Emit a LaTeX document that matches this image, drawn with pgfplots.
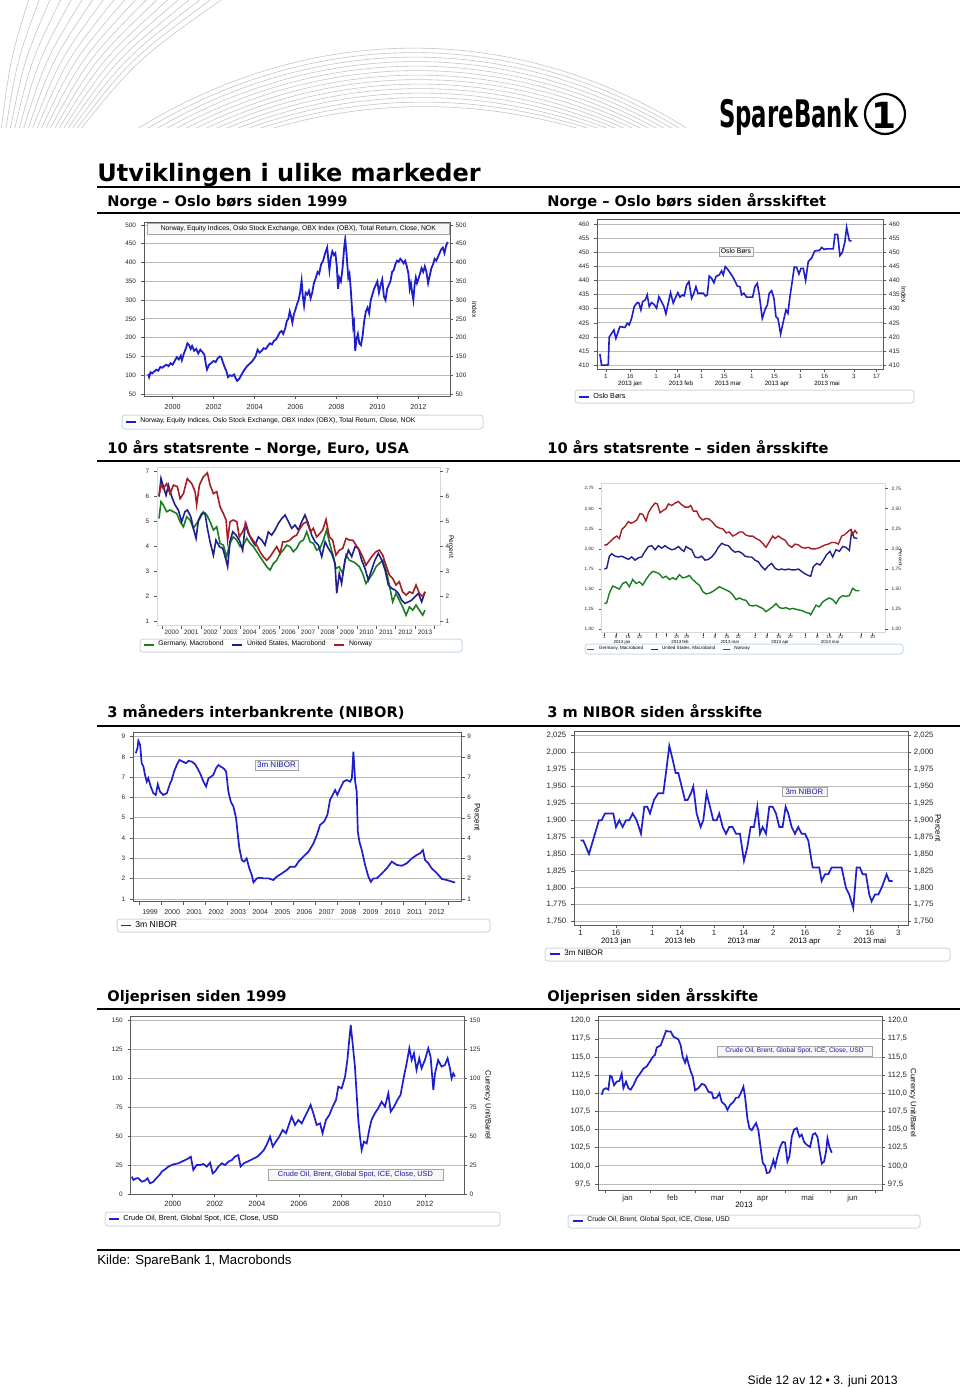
\documentclass[border=0pt]{standalone}
\usepackage{pgfplots}
\pgfplotsset{compat=1.18}
\usepackage{fontspec}
\setmainfont{Liberation Sans}
\newfontfamily\verd{DejaVu Sans}
\definecolor{lb}{RGB}{30,30,205}
\definecolor{frc}{RGB}{90,90,90}
\definecolor{grc}{RGB}{185,185,185}
\definecolor{lfr}{RGB}{205,218,228}
\definecolor{ggreen}{RGB}{25,125,35}
\definecolor{gnavy}{RGB}{30,30,140}
\definecolor{gred}{RGB}{165,30,35}
\definecolor{lgbox}{RGB}{200,218,230}
\newcommand{\fs}[1]{\fontsize{#1}{#1}\selectfont}
\pgfplotsset{
 bx/.style={scale only axis, anchor=south west, axis line style={draw=frc, line width=0.5pt},
  tick align=outside, major tick length=1.5pt, minor tick length=1.5pt,
  tick style={draw=frc, line width=0.3pt}, xtick pos=left, ytick pos=left,
  ymajorgrids, grid style={draw=grc, line width=0.45pt},
  tick label style={font=\fs{3.2}, text=black!85},
  yticklabel style={xshift=1pt},
  /pgf/number format/1000 sep={}, /pgf/number format/assume math mode=true,
  legend style={draw=none, fill=none, font=\fs{3.4}, inner sep=0pt, outer sep=0pt, anchor=west},
  legend cell align=left,
  legend image code/.code={\draw[##1, line width=0.7pt] (0pt,0pt) -- (5pt,0pt);}},
 rx/.style={scale only axis, anchor=south west, axis line style={draw=none},
  tick align=outside, major tick length=1.5pt, tick style={draw=frc, line width=0.3pt},
  xtick=\empty, ytick pos=right, yticklabel pos=right, ylabel near ticks,
  tick label style={font=\fs{3.2}, text=black!85}, yticklabel style={xshift=-2.2pt},
  ylabel style={font=\fs{3.3}, rotate=180},
  /pgf/number format/assume math mode=true, /pgf/number format/1000 sep={}, xmin=0, xmax=1},
 cA/.style={at={(72pt,-198pt)}, width=153pt, height=86.5pt, ymin=44.7, ymax=505.3, ytick={50,100,...,500}},
 cB/.style={at={(298.65pt,-184.65pt)}, width=143pt, height=74.65pt, ymin=408.6, ymax=461.4, ytick={410,415,...,460}},
 cC/.style={at={(78.65pt,-312.85pt)}, width=141.35pt, height=79.2pt, ymin=0.84, ymax=7.15, ytick={1,...,7}},
 cD/.style={at={(300.85pt,-316.35pt)}, width=141.65pt, height=74.85pt, ymin=0.958, ymax=2.82,
   ytick={1,1.25,1.5,1.75,2,2.25,2.5,2.75}, yticklabels={{1,00},{1,25},{1,50},{1,75},{2,00},{2,25},{2,50},{2,75}}},
 cE/.style={at={(66.65pt,-450.85pt)}, width=164.2pt, height=84.7pt, ymin=0.87, ymax=9.21, ytick={1,...,9}},
 cF/.style={at={(287.15pt,-462.5pt)}, width=167pt, height=97pt, ymin=1.745, ymax=2.032,
   ytick={1.75,1.775,1.8,1.825,1.85,1.875,1.9,1.925,1.95,1.975,2,2.025},
   yticklabels={{1,750},{1,775},{1,800},{1,825},{1,850},{1,875},{1,900},{1,925},{1,950},{1,975},{2,000},{2,025}}},
 cG/.style={at={(65.35pt,-597.15pt)}, width=166.65pt, height=89.15pt, ymin=0, ymax=154, ytick={0,25,...,150}},
 cH/.style={at={(299.15pt,-595pt)}, width=142pt, height=87pt, ymin=96.67, ymax=120.64,
   ytick={97.5,100,102.5,105,107.5,110,112.5,115,117.5,120},
   yticklabels={{97,5},{100,0},{102,5},{105,0},{107,5},{110,0},{112,5},{115,0},{117,5},{120,0}}},
}
\begin{document}
\begin{tikzpicture}
\begin{scope}[x=0.5pt,y=-0.5pt]
\path[use as bounding box] (0,0) rectangle (960,1387);
\fill[white] (0,0) rectangle (960,1387);
% header decoration
\begin{scope}
\clip (0,0) rectangle (700,127);
\foreach \i in {0,...,13} {
  \draw[gray!45, line width=0.3pt] (120+\i*9,140) .. controls (300+\i*4,20+\i*6) and (520-\i*3,15+\i*6) .. (705-\i*7,140);
}
\foreach \i in {0,...,18} {
  \draw[gray!45, line width=0.3pt] (30+\i*11,-5) .. controls (10+\i*7,60) .. (\i*4,140);
}
\end{scope}
% logo
\node[font=\verd\bfseries\fs{19}, xscale=0.6, anchor=west, inner sep=0] at (719,117) {SpareBank};
\draw[line width=1.1pt] (885,114) circle (10pt);
\node[font=\verd\bfseries\fs{18}, inner sep=0] at (884,115) {1};
% titles
\node[anchor=base west, inner sep=0, font=\verd\bfseries\fs{12}] at (97,181) {Utviklingen i ulike markeder};
\draw[line width=1pt] (97,187) -- (960,187);
\foreach \yy/\ya/\yb in {206/Norge – Oslo børs siden 1999/Norge – Oslo børs siden årsskiftet,
                         453/10 års statsrente – Norge{,} Euro{,} USA/10 års statsrente – siden årsskifte,
                         717/3 måneders interbankrente (NIBOR)/3 m NIBOR siden årsskifte,
                         1001/Oljeprisen siden 1999/Oljeprisen siden årsskifte} {
  \node[anchor=base west, inner sep=0, font=\verd\bfseries\fs{7.3}] at (107,\yy) {\ya};
  \node[anchor=base west, inner sep=0, font=\verd\bfseries\fs{7.3}] at (547,\yy) {\yb};
}
\foreach \yy in {213,461,726,1009} { \draw[line width=0.6pt] (97,\yy) -- (960,\yy); }
\draw[line width=1pt] (97,1250) -- (960,1250);
\node[anchor=base west, inner sep=0, font=\fs{6.6}] at (97,1264) {Kilde: SpareBank 1, Macrobonds};
\node[anchor=base east, inner sep=0, font=\fs{6.1}] at (898,1384) {Side 12 av 12 • 3. juni 2013};
% legend boxes
\foreach \xa/\ya/\xb/\yb in {122/415/483/429, 575/390/914/403, 140/639/462/652, 585/644/903/654,
                             117/919/490/932, 545/948/950/961, 105/1212/500/1226, 568/1215/920/1228} {
  \draw[lgbox, line width=0.5pt, rounded corners=1.5pt, fill=white] (\xa,\ya) rectangle (\xb,\yb);
}
\end{scope}

% ===== Chart 1 =====
\begin{axis}[bx, cA, xmin=1998.6, xmax=2013.55, xtick={2000,2002,...,2012},
  xticklabel style={font=\fs{3.6}, yshift=1pt},
  legend style={at={(-0.062,-0.150)}}]
\addplot[lb, line width=0.9pt] coordinates {
(1998.80,103)(1998.85,95)(1998.92,108)(1999.00,105)(1999.10,110)(1999.20,115)(1999.30,112)(1999.40,122)
(1999.50,120)(1999.60,125)(1999.70,128)(1999.80,124)(1999.90,132)(2000.00,128)(2000.10,138)(2000.20,148)
(2000.30,142)(2000.40,152)(2000.45,140)(2000.55,158)(2000.65,172)(2000.72,185)(2000.80,180)(2000.88,170)
(2000.95,178)(2001.05,165)(2001.15,170)(2001.25,158)(2001.35,168)(2001.45,162)(2001.55,155)(2001.62,130)
(2001.68,115)(2001.78,128)(2001.88,132)(2002.00,138)(2002.10,135)(2002.20,145)(2002.30,150)(2002.38,148)
(2002.45,135)(2002.55,120)(2002.62,112)(2002.70,95)(2002.80,100)(2002.90,98)(2003.00,102)(2003.08,92)
(2003.15,85)(2003.25,90)(2003.35,100)(2003.45,110)(2003.55,118)(2003.65,125)(2003.75,130)(2003.85,135)
(2003.95,142)(2004.05,150)(2004.15,168)(2004.25,160)(2004.35,165)(2004.45,172)(2004.55,170)(2004.65,178)
(2004.75,185)(2004.85,182)(2004.95,192)(2005.05,195)(2005.15,205)(2005.25,215)(2005.32,218)(2005.40,210)
(2005.50,225)(2005.58,245)(2005.65,250)(2005.72,270)(2005.78,258)(2005.85,240)(2005.92,262)(2006.00,275)
(2006.08,290)(2006.15,300)(2006.22,318)(2006.30,352)(2006.36,310)(2006.42,285)(2006.50,320)(2006.58,315)
(2006.66,325)(2006.74,305)(2006.82,320)(2006.90,345)(2007.00,360)(2007.08,375)(2007.16,370)(2007.25,395)
(2007.35,405)(2007.45,425)(2007.55,440)(2007.60,410)(2007.66,380)(2007.72,410)(2007.80,430)(2007.88,420)
(2007.95,425)(2008.02,390)(2008.08,330)(2008.14,360)(2008.22,350)(2008.30,385)(2008.38,440)(2008.43,462)
(2008.50,420)(2008.58,360)(2008.64,370)(2008.70,330)(2008.76,280)(2008.82,230)(2008.86,240)(2008.92,165)
(2008.98,195)(2009.05,210)(2009.12,185)(2009.20,180)(2009.28,205)(2009.36,245)(2009.44,270)(2009.52,280)
(2009.60,265)(2009.68,300)(2009.76,315)(2009.84,330)(2009.92,340)(2010.00,350)(2010.08,320)(2010.16,340)
(2010.24,355)(2010.32,310)(2010.40,300)(2010.48,330)(2010.56,340)(2010.64,350)(2010.72,375)(2010.80,380)
(2010.88,395)(2010.96,405)(2011.04,402)(2011.12,410)(2011.20,405)(2011.28,398)(2011.36,405)(2011.44,390)
(2011.52,370)(2011.58,330)(2011.64,345)(2011.70,320)(2011.76,300)(2011.82,340)(2011.88,360)(2011.94,345)
(2012.00,355)(2012.08,370)(2012.16,385)(2012.24,375)(2012.32,390)(2012.40,375)(2012.48,345)(2012.56,365)
(2012.64,385)(2012.72,395)(2012.80,410)(2012.88,405)(2012.96,415)(2013.04,425)(2013.12,435)(2013.20,440)
(2013.28,425)(2013.36,445)(2013.44,455)};
\addlegendentry{Norway, Equity Indices, Oslo Stock Exchange, OBX Index (OBX), Total Return, Close, NOK}
\end{axis}
\begin{axis}[rx, cA, ylabel={Index}, ylabel shift=-4pt]
\end{axis}

% ===== Chart 2 =====
\begin{axis}[bx, cB, xmin=-5.3, xmax=171.2,
  xtick={0,15,31,44,59,73,90,104,120,135,153,167}, xticklabels={1,16,1,14,1,15,1,15,1,16,3,17},
  xticklabel style={font=\fs{3.1}, yshift=2.6pt},
  legend style={at={(-0.0675,-0.1855)}, font=\fs{3.6}}]
\addplot[lb, line width=0.8pt] coordinates {
(-3.70,414)(-2.67,410.1)(0.41,410.1)(1.44,410.2)(2.06,420)(4.94,422.5)(6.17,419.5)(8.64,423.7)(11.73,423.4)
(13.17,424.9)(14.40,424.3)(15.84,426.6)(17.49,430.8)(19.34,432.2)(20.37,432)(21.60,429.6)(22.63,432.5)
(24.28,433.1)(25.51,434.9)(26.75,430.8)(28.19,432.2)(29.63,431.6)(31.28,430.2)(32.72,434.3)(34.36,432.5)
(35.80,430.8)(37.04,428.2)(38.48,432)(39.92,435.7)(41.56,432)(43.21,434.3)(44.44,435.7)(45.68,434.1)
(47.33,434.9)(48.35,434.6)(49.79,438.4)(51.23,439.6)(52.88,433.7)(53.91,434.9)(55.56,437.8)(56.79,435.5)
(58.02,435.5)(60.08,435.5)(61.52,434.5)(62.55,434.9)(63.79,441.6)(65.23,440.8)(66.67,439.2)(67.90,441.4)
(69.96,442)(71.40,443.4)(72.43,442)(73.66,444.9)(75.10,444)(76.54,442.8)(78.19,441.4)(79.84,439.6)
(81.07,438.1)(82.72,437.8)(83.74,434.9)(85.19,435.5)(86.83,434.1)(88.48,434.1)(90.53,434.1)(91.98,437.8)
(93.42,439)(94.65,434.9)(96.50,426.6)(98.15,429.6)(99.59,431.3)(100.82,435.5)(102.26,436.4)(103.70,433.7)
(104.94,427.2)(106.17,426.6)(107.82,421.1)(109.47,425.4)(111.11,429.6)(112.35,428.4)(113.58,434.3)
(114.81,439)(116.26,444.7)(117.70,444.7)(119.14,442.3)(120.37,444.3)(121.81,444.3)(123.25,440)
(124.90,446.7)(126.95,447.9)(128.81,450.4)(130.45,450.6)(131.69,450.6)(133.13,451.7)(134.77,451)
(136.21,451.2)(138.27,451.2)(140.33,451.2)(141.36,456.3)(143.00,456.3)(144.44,448.8)(145.88,449.9)
(147.53,453.8)(148.56,458.8)(150.21,454.1)(151.65,454)};
\addlegendentry{Oslo Børs}
\end{axis}
\begin{axis}[rx, cB, ylabel={Index}, ylabel shift=-6pt]
\end{axis}

% ===== Chart 3 =====
\begin{axis}[bx, cC, ymajorgrids=false, axis line style={draw=lfr, line width=0.5pt},
  xmin=1999.76, xmax=2014.27,
  xtick={2000.5,2001.5,2002.5,2003.5,2004.5,2005.5,2006.5,2007.5,2008.5,2009.5,2010.5,2011.5,2012.5,2013.5},
  xticklabels={2000,2001,2002,2003,2004,2005,2006,2007,2008,2009,2010,2011,2012,2013},
  minor xtick={2000,2001,2002,2003,2004,2005,2006,2007,2008,2009,2010,2011,2012,2013,2014},
  major x tick style={draw=none}, xticklabel style={yshift=3pt},
  legend columns=-1, legend style={at={(-0.0506,-0.122)}, font=\fs{3.4},
   /tikz/every even column/.append style={column sep=2pt}}]
\addplot[ggreen, line width=0.8pt] coordinates {
(1999.85,5.11)(1999.95,5.78)(2000.07,5.65)(2000.24,5.38)(2000.41,5.45)(2000.59,5.38)(2000.76,5.31)(2000.93,4.98)
(2001.10,4.78)(2001.27,5.18)(2001.44,5.05)(2001.61,4.72)(2001.78,4.91)(2001.95,5.11)(2002.12,5.38)(2002.30,5.25)
(2002.47,4.98)(2002.64,4.65)(2002.81,4.78)(2002.98,4.12)(2003.15,4.05)(2003.32,3.59)(2003.49,4.12)(2003.66,4.38)
(2003.84,4.25)(2004.01,3.99)(2004.18,4.05)(2004.35,4.32)(2004.52,4.12)(2004.69,3.99)(2004.86,3.79)(2005.03,3.59)
(2005.20,3.39)(2005.38,3.19)(2005.55,3.06)(2005.72,3.32)(2005.89,3.45)(2006.06,3.72)(2006.23,3.85)(2006.40,4.05)
(2006.57,3.99)(2006.74,3.79)(2006.91,3.92)(2007.09,4.18)(2007.26,4.25)(2007.43,4.58)(2007.60,4.18)(2007.77,4.12)
(2007.94,3.85)(2008.11,3.92)(2008.28,4.25)(2008.45,4.65)(2008.63,4.05)(2008.80,3.59)(2008.93,3.12)(2009.10,3.19)
(2009.28,2.92)(2009.45,3.65)(2009.62,3.45)(2009.79,3.39)(2009.96,3.32)(2010.13,3.19)(2010.30,2.92)(2010.47,2.52)
(2010.64,2.72)(2010.82,2.92)(2010.99,3.19)(2011.16,3.32)(2011.33,3.45)(2011.50,3.06)(2011.67,2.46)(2011.84,1.79)
(2012.01,2.13)(2012.18,1.86)(2012.35,1.59)(2012.53,1.26)(2012.70,1.59)(2012.87,1.46)(2013.04,1.66)(2013.21,1.46)
(2013.38,1.26)(2013.50,1.46)};
\addlegendentry{Germany, Macrobond}
\addplot[gnavy, line width=0.8pt] coordinates {
(1999.85,5.98)(1999.95,6.71)(2000.07,6.38)(2000.21,6.04)(2000.33,6.44)(2000.50,5.98)(2000.67,5.65)(2000.84,5.45)
(2001.01,4.98)(2001.18,5.38)(2001.30,5.45)(2001.48,5.18)(2001.61,4.72)(2001.75,4.32)(2001.87,5.05)(2002.04,5.31)
(2002.21,5.31)(2002.33,4.72)(2002.47,4.18)(2002.64,3.65)(2002.77,4.25)(2002.95,3.99)(2003.12,3.92)(2003.29,3.45)
(2003.37,3.19)(2003.49,4.18)(2003.63,4.58)(2003.80,4.45)(2003.97,4.25)(2004.14,3.85)(2004.28,4.91)(2004.43,4.52)
(2004.61,4.25)(2004.78,4.05)(2004.95,4.38)(2005.12,4.25)(2005.29,4.05)(2005.46,4.58)(2005.63,4.45)(2005.80,4.65)
(2005.97,4.91)(2006.15,5.11)(2006.32,5.25)(2006.49,4.98)(2006.66,4.72)(2006.83,4.85)(2007.00,4.65)(2007.17,4.98)
(2007.34,5.25)(2007.51,4.91)(2007.68,4.45)(2007.86,4.18)(2008.03,4.05)(2008.20,3.59)(2008.37,4.18)(2008.54,3.92)
(2008.71,3.72)(2008.88,3.32)(2008.97,2.13)(2009.10,2.92)(2009.22,2.52)(2009.39,3.45)(2009.57,3.85)(2009.74,3.59)
(2009.91,3.99)(2010.08,3.92)(2010.25,3.45)(2010.42,3.12)(2010.59,2.66)(2010.76,3.06)(2010.93,3.45)(2011.11,3.72)
(2011.28,3.45)(2011.45,3.06)(2011.62,2.46)(2011.79,2.33)(2011.96,2.26)(2012.13,2.13)(2012.30,1.86)(2012.47,1.73)
(2012.65,1.79)(2012.82,1.86)(2012.99,2.00)(2013.16,2.13)(2013.33,1.79)(2013.50,2.19)};
\addlegendentry{United States, Macrobond}
\addplot[gred, line width=0.8pt] coordinates {
(1999.85,6.04)(1999.95,6.44)(2000.07,6.30)(2000.24,6.50)(2000.41,6.10)(2000.59,6.44)(2000.79,6.38)(2000.93,5.90)
(2001.10,6.10)(2001.30,6.70)(2001.53,6.50)(2001.70,6.18)(2001.78,5.65)(2001.92,6.44)(2002.12,6.77)(2002.33,6.93)
(2002.47,6.44)(2002.64,6.10)(2002.81,6.18)(2002.98,5.58)(2003.15,5.31)(2003.29,5.05)(2003.37,4.25)(2003.49,4.98)
(2003.66,5.05)(2003.84,4.98)(2003.97,4.38)(2004.14,4.58)(2004.31,4.91)(2004.49,4.45)(2004.66,4.25)(2004.86,4.05)
(2005.03,3.79)(2005.20,3.59)(2005.38,3.45)(2005.55,3.59)(2005.72,3.79)(2005.89,3.99)(2006.06,3.72)(2006.20,4.18)
(2006.37,4.18)(2006.57,4.25)(2006.74,4.38)(2006.91,4.45)(2007.09,4.72)(2007.26,4.91)(2007.43,4.98)(2007.63,4.58)
(2007.77,4.72)(2007.94,4.38)(2008.11,4.52)(2008.25,4.65)(2008.42,5.07)(2008.59,4.38)(2008.76,4.25)(2008.93,3.65)
(2009.10,3.85)(2009.28,3.92)(2009.45,4.32)(2009.62,4.25)(2009.79,4.25)(2009.96,4.05)(2010.13,3.85)(2010.30,3.59)
(2010.47,3.25)(2010.64,3.45)(2010.82,3.65)(2010.99,3.79)(2011.16,3.85)(2011.33,3.65)(2011.50,3.25)(2011.67,2.86)
(2011.84,2.72)(2012.01,2.46)(2012.18,2.59)(2012.35,2.19)(2012.53,2.06)(2012.70,2.19)(2012.87,2.13)(2013.04,2.46)
(2013.21,2.13)(2013.38,2.00)(2013.50,2.19)};
\addlegendentry{Norway}
\end{axis}
\begin{axis}[rx, cC, ylabel={Percent}, ylabel shift=-7pt]
\end{axis}

% ===== Chart 4 =====
\begin{axis}[bx, cD, ymajorgrids=false, axis line style={draw=lfr, line width=0.5pt},
  tick label style={font=\fs{2.3}}, xticklabel style={yshift=3.6pt},
  xmin=-1.6, xmax=167.4,
  xtick={0,7,14,21,31,37,43,49,59,66,73,80,90,97,104,111,120,127,134,141,153,160},
  xticklabels={1,8,15,22,1,7,13,19,1,8,15,22,1,8,15,22,1,8,15,22,3,10},
  legend columns=-1, legend style={at={(-0.052,-0.109)}, font=\fs{2.3},
   /tikz/every even column/.append style={column sep=1.5pt}},
  legend image code/.code={\draw[#1, line width=0.5pt] (0pt,0pt) -- (3.5pt,0pt);}]
\addplot[ggreen, line width=0.7pt] coordinates {
(0,1.32)(1.39,1.33)(2.98,1.45)(4.97,1.54)(6.96,1.52)(8.95,1.50)(10.93,1.57)(12.92,1.59)(14.91,1.53)(16.90,1.62)
(18.89,1.57)(20.87,1.59)(22.86,1.55)(24.85,1.62)(26.84,1.68)(28.83,1.72)(30.82,1.71)(32.80,1.69)(34.79,1.64)
(36.78,1.66)(38.77,1.62)(40.76,1.64)(42.74,1.62)(44.73,1.68)(46.72,1.64)(48.71,1.65)(50.70,1.67)(52.68,1.62)
(54.67,1.58)(56.66,1.55)(58.65,1.47)(60.64,1.44)(62.62,1.45)(64.61,1.47)(66.60,1.50)(68.59,1.53)(70.58,1.51)
(72.56,1.49)(74.55,1.47)(76.54,1.43)(78.53,1.37)(80.52,1.39)(82.50,1.37)(84.49,1.36)(86.48,1.30)(88.47,1.29)
(90.46,1.30)(92.45,1.28)(94.43,1.26)(96.42,1.22)(98.41,1.25)(100.40,1.28)(102.39,1.32)(104.37,1.27)(106.36,1.26)
(108.35,1.27)(110.34,1.25)(112.33,1.26)(114.31,1.25)(116.30,1.24)(118.29,1.23)(120.28,1.21)(122.27,1.20)
(123.06,1.18)(124.65,1.24)(126.24,1.30)(128.23,1.28)(130.22,1.34)(132.21,1.37)(134.19,1.39)(136.18,1.37)
(138.17,1.32)(140.16,1.39)(142.15,1.42)(144.14,1.41)(146.12,1.42)(148.11,1.51)(150.10,1.48)(152.09,1.48)};
\addlegendentry{Germany, Macrobond}
\addplot[gnavy, line width=0.7pt] coordinates {
(0,1.75)(1.39,1.76)(2.98,1.91)(4.37,1.94)(6.36,1.91)(8.35,1.90)(10.34,1.91)(12.33,1.89)(14.31,1.87)(16.30,1.90)
(18.29,1.86)(20.28,1.89)(22.27,1.90)(24.25,1.97)(26.24,2.03)(28.23,2.04)(30.22,1.99)(32.21,2.04)(34.19,2.01)
(36.18,2.04)(38.17,2.01)(40.16,1.99)(42.15,2.00)(44.14,2.03)(46.12,1.99)(47.51,1.97)(48.71,2.03)(50.10,2.01)
(52.09,1.99)(54.08,1.90)(56.06,1.89)(58.05,1.91)(60.04,1.86)(62.03,1.87)(64.02,1.90)(66.00,1.95)(67.99,2.02)
(69.98,2.07)(71.97,2.05)(73.96,2.04)(75.94,1.99)(77.93,1.96)(79.92,1.97)(81.91,1.95)(83.90,1.91)(85.88,1.90)
(87.87,1.90)(89.86,1.86)(91.85,1.84)(93.84,1.78)(95.83,1.74)(97.81,1.79)(99.80,1.82)(101.79,1.76)(103.78,1.74)
(105.77,1.75)(107.75,1.74)(109.74,1.75)(111.73,1.74)(113.72,1.74)(115.71,1.75)(117.69,1.72)(119.68,1.69)
(121.67,1.67)(123.06,1.66)(124.65,1.78)(126.64,1.82)(128.63,1.80)(130.62,1.86)(132.60,1.93)(134.59,1.97)
(136.18,1.90)(138.17,1.99)(140.16,1.97)(142.15,2.03)(144.14,2.02)(146.12,1.98)(147.51,2.22)(148.91,2.14)(150.89,2.13)};
\addlegendentry{United States, Macrobond}
\addplot[gred, line width=0.7pt] coordinates {
(0,2.05)(1.39,2.05)(3.38,2.09)(5.37,2.13)(7.36,2.16)(8.95,2.13)(10.34,2.24)(12.33,2.28)(14.31,2.34)(15.71,2.32)
(17.30,2.33)(19.28,2.36)(21.27,2.44)(22.86,2.43)(24.85,2.35)(26.24,2.45)(28.23,2.52)(30.22,2.57)(31.61,2.56)
(33.20,2.45)(35.19,2.48)(36.78,2.50)(38.17,2.56)(40.16,2.54)(42.15,2.57)(44.14,2.59)(46.12,2.55)(48.11,2.52)
(50.10,2.52)(51.49,2.54)(53.08,2.47)(55.07,2.47)(56.66,2.40)(58.65,2.36)(60.64,2.38)(62.62,2.37)(64.61,2.33)
(66.60,2.28)(68.59,2.26)(70.58,2.25)(72.56,2.20)(74.55,2.21)(76.54,2.16)(78.53,2.18)(80.52,2.21)(82.50,2.21)
(84.49,2.17)(86.48,2.16)(88.47,2.16)(90.46,2.13)(92.45,2.11)(94.43,2.07)(96.42,2.02)(98.41,2.09)(100.40,2.16)
(101.79,2.13)(103.78,2.16)(105.77,2.13)(107.75,2.11)(109.74,2.05)(111.73,2.02)(113.72,2.06)(115.71,2.05)
(117.69,2.02)(119.68,2.01)(121.67,2.02)(123.66,2.00)(125.65,2.00)(127.63,2.01)(129.62,2.03)(131.61,2.05)
(133.60,2.06)(135.59,2.08)(137.57,2.08)(139.56,2.06)(141.55,2.16)(143.54,2.18)(145.53,2.22)(146.92,2.24)
(148.11,2.18)(149.50,2.23)(150.89,2.19)};
\addlegendentry{Norway}
\end{axis}
\begin{axis}[rx, cD, tick label style={font=\fs{2.4}}, yticklabel style={xshift=0.5pt}, ylabel style={font=\fs{2.4}}, ylabel={Percent}, ylabel shift=-8pt]
\end{axis}

% ===== Chart 5 =====
\begin{axis}[bx, cE, xmin=1998.74, xmax=2013.63,
  xtick={1999.5,2000.5,2001.5,2002.5,2003.5,2004.5,2005.5,2006.5,2007.5,2008.5,2009.5,2010.5,2011.5,2012.5},
  xticklabels={1999,2000,2001,2002,2003,2004,2005,2006,2007,2008,2009,2010,2011,2012},
  minor xtick={1999,2000,2001,2002,2003,2004,2005,2006,2007,2008,2009,2010,2011,2012,2013},
  major x tick style={draw=none}, xticklabel style={font=\fs{3.5}, yshift=1pt},
  legend style={at={(-0.0405,-0.1405)}, font=\fs{4.3}}]
\addplot[lb, line width=0.85pt] coordinates {
(1998.85,8.18)(1998.93,8.43)(1998.97,8.79)(1999.05,8.59)(1999.12,7.69)(1999.20,7.52)(1999.27,7.11)(1999.35,6.78)
(1999.42,6.95)(1999.53,6.54)(1999.65,6.21)(1999.76,6.13)(1999.85,6.65)(1999.95,6.29)(2000.10,6.13)(2000.26,6.21)
(2000.41,6.70)(2000.48,6.86)(2000.59,7.28)(2000.71,7.60)(2000.83,7.85)(2000.98,7.77)(2001.13,7.69)(2001.24,7.80)
(2001.39,7.77)(2001.54,7.64)(2001.69,7.36)(2001.80,7.11)(2001.92,6.78)(2002.04,6.54)(2002.15,6.95)(2002.27,7.03)
(2002.37,7.11)(2002.49,7.44)(2002.60,7.60)(2002.70,7.52)(2002.83,7.44)(2002.95,7.28)(2003.05,6.29)(2003.16,5.80)
(2003.28,5.55)(2003.40,4.98)(2003.48,4.15)(2003.55,3.50)(2003.66,2.92)(2003.76,2.84)(2003.88,3.00)(2004.00,2.51)
(2004.11,2.18)(2004.19,1.82)(2004.34,2.02)(2004.49,2.05)(2004.64,2.02)(2004.87,2.02)(2005.09,1.94)(2005.24,2.10)
(2005.47,2.26)(2005.70,2.43)(2005.85,2.59)(2006.08,2.59)(2006.23,2.84)(2006.45,3.09)(2006.68,3.33)(2006.91,3.74)
(2007.06,4.15)(2007.21,4.65)(2007.39,4.81)(2007.54,5.14)(2007.66,5.88)(2007.78,6.13)(2007.89,6.37)(2007.99,6.13)
(2008.12,6.45)(2008.27,6.78)(2008.42,6.86)(2008.57,6.78)(2008.65,6.95)(2008.72,8.26)(2008.80,6.78)(2008.87,6.29)
(2008.92,4.32)(2008.99,3.83)(2009.10,3.41)(2009.25,2.68)(2009.40,2.10)(2009.51,1.85)(2009.63,2.02)(2009.78,2.02)
(2010.01,2.26)(2010.23,2.51)(2010.46,2.84)(2010.69,2.68)(2010.91,2.64)(2011.14,2.76)(2011.37,3.00)(2011.59,3.17)
(2011.74,3.25)(2011.87,3.41)(2011.97,2.92)(2012.12,2.76)(2012.27,2.51)(2012.43,2.35)(2012.58,2.18)(2012.73,1.99)
(2012.95,1.94)(2013.10,1.89)(2013.33,1.81)};
\addlegendentry{3m NIBOR}
\end{axis}
\begin{axis}[rx, cE, ylabel={Percent}, ylabel style={font=\fs{4}}, ylabel shift=-5pt]
\end{axis}

% ===== Chart 6 =====
\begin{axis}[bx, cF, tick label style={font=\fs{3.9}}, xticklabel style={yshift=2.6pt},
  xmin=-3.05, xmax=157.8,
  xtick={0,17,34.5,47.8,64.2,78.5,92.8,108,124.4,139.3,153},
  xticklabels={1,16,1,14,1,14,2,16,2,16,3},
  legend style={at={(-0.0757,-0.1495)}, font=\fs{4}}]
\addplot[lb, line width=0.85pt] coordinates {
(0,1.87)(1.28,1.87)(4.01,1.85)(6.90,1.88)(8.83,1.90)(10.11,1.90)(11.72,1.91)(14.93,1.91)(15.73,1.91)(17.01,1.89)
(18.62,1.90)(20.22,1.89)(21.83,1.90)(23.43,1.90)(25.04,1.91)(26.97,1.90)(29.05,1.88)(30.66,1.92)(32.10,1.92)
(33.39,1.91)(35.31,1.93)(37.40,1.94)(39.81,1.94)(41.09,1.97)(42.70,2.01)(44.30,1.99)(45.75,1.97)(47.03,1.97)
(48.64,1.95)(50.24,1.93)(51.52,1.93)(53.13,1.94)(54.25,1.95)(55.86,1.91)(57.78,1.89)(59.07,1.90)(60.67,1.94)
(62.28,1.92)(63.88,1.90)(65.49,1.90)(66.77,1.91)(68.38,1.89)(69.98,1.88)(71.59,1.89)(73.19,1.89)(74.80,1.88)
(76.73,1.88)(78.65,1.84)(80.26,1.86)(81.86,1.89)(83.47,1.89)(85.07,1.92)(86.36,1.88)(87.64,1.89)(89.25,1.88)
(90.85,1.92)(92.46,1.92)(94.06,1.91)(95.67,1.89)(97.27,1.89)(98.72,1.92)(100.00,1.91)(101.61,1.89)(103.21,1.88)
(104.82,1.89)(106.42,1.88)(108.03,1.88)(109.63,1.87)(111.72,1.83)(114.93,1.83)(116.05,1.81)(117.66,1.82)
(119.26,1.82)(120.87,1.83)(124.56,1.83)(125.68,1.83)(127.77,1.80)(129.37,1.79)(131.30,1.77)(132.91,1.83)
(134.51,1.83)(135.79,1.82)(137.40,1.82)(139.00,1.79)(140.13,1.78)(141.73,1.79)(143.34,1.79)(144.94,1.80)
(147.35,1.82)(148.64,1.81)(150.24,1.81)};
\addlegendentry{3m NIBOR}
\end{axis}
\begin{axis}[rx, cF, tick label style={font=\fs{3.9}}, ylabel={Percent}, ylabel style={font=\fs{4}}, ylabel shift=-6pt]
\end{axis}

% ===== Chart 7 =====
\begin{axis}[bx, cG, xmin=1998, xmax=2013.86, xtick={2000,2002,...,2012},
  xticklabel style={font=\fs{3.8}, yshift=1.5pt},
  legend style={at={(-0.068,-0.1385)}, font=\fs{3.7}}]
\addplot[lb, line width=0.85pt] coordinates {
(1998.05,15.2)(1998.13,12.4)(1998.26,13.8)(1998.37,13.8)(1998.53,10.9)(1998.68,11.8)(1998.80,13.8)(1998.92,9.5)
(1999.08,10.9)(1999.21,13.8)(1999.37,16.7)(1999.48,19.6)(1999.64,21.6)(1999.79,23.9)(1999.95,25.3)(2000.11,26.2)
(2000.27,26.8)(2000.43,28.2)(2000.59,29.6)(2000.75,31.1)(2000.86,32.5)(2000.98,21.0)(2001.14,25.3)(2001.30,25.3)
(2001.46,26.2)(2001.62,23.9)(2001.78,27.3)(2001.90,18.1)(2002.01,19.6)(2002.17,23.9)(2002.33,26.8)(2002.49,25.3)
(2002.65,28.2)(2002.81,29.6)(2002.96,32.5)(2003.12,34.0)(2003.23,23.9)(2003.39,26.8)(2003.55,28.2)(2003.71,29.6)
(2003.87,31.1)(2004.03,32.5)(2004.19,35.4)(2004.34,38.3)(2004.50,44.0)(2004.63,49.8)(2004.76,41.2)(2004.91,45.5)
(2005.07,49.8)(2005.23,55.6)(2005.39,52.7)(2005.55,61.3)(2005.66,67.1)(2005.82,59.9)(2005.98,64.2)(2006.14,61.3)
(2006.29,67.1)(2006.45,72.8)(2006.56,77.2)(2006.69,70.0)(2006.85,59.9)(2007.01,61.3)(2007.13,52.7)(2007.29,64.2)
(2007.45,68.5)(2007.61,75.7)(2007.77,81.5)(2007.88,93.0)(2008.04,91.5)(2008.20,101.6)(2008.31,116.0)(2008.40,133.3)
(2008.47,146.3)(2008.56,130.4)(2008.67,110.3)(2008.75,87.2)(2008.83,64.2)(2008.91,49.8)(2008.99,38.3)(2009.10,45.5)
(2009.23,44.0)(2009.35,55.6)(2009.46,64.2)(2009.62,70.0)(2009.78,74.3)(2009.94,80.0)(2010.10,75.7)(2010.26,87.2)
(2010.37,71.4)(2010.53,75.7)(2010.69,81.5)(2010.84,85.8)(2011.00,101.6)(2011.13,113.1)(2011.26,126.1)(2011.37,116.0)
(2011.48,121.8)(2011.60,107.4)(2011.73,117.5)(2011.84,108.8)(2012.00,116.0)(2012.16,126.1)(2012.27,118.9)
(2012.40,90.1)(2012.48,104.5)(2012.63,116.0)(2012.79,110.3)(2012.95,111.7)(2013.08,117.5)(2013.19,108.8)
(2013.27,100.2)(2013.35,104.5)(2013.43,101.6)};
\addlegendentry{Crude Oil, Brent, Global Spot, ICE, Close, USD}
\end{axis}
\begin{axis}[rx, cG, ylabel={Currency Unit/Barrel}, ylabel style={font=\fs{3.8}}, ylabel shift=-5pt]
\end{axis}

% ===== Chart 8 =====
\begin{axis}[bx, cH, tick label style={font=\fs{3.9}}, xmin=-0.15, xmax=6.16,
  xtick={0.5,1.5,2.5,3.5,4.5,5.5}, xticklabels={jan,feb,mar,apr,mai,jun},
  minor xtick={0,1,2,3,4,5,6}, major x tick style={draw=none},
  xticklabel style={text height=2.9pt, text depth=0.9pt, yshift=2.5pt},
  legend style={at={(-0.0926,-0.178)}, font=\fs{3.4}}]
\addplot[lb, line width=0.85pt] coordinates {
(-0.074,109.8)(-0.037,110.5)(0.022,110.7)(0.074,110.5)(0.111,112.4)(0.148,112.3)(0.200,111.1)(0.259,111.6)
(0.319,111.7)(0.370,112.7)(0.407,110.7)(0.467,111.6)(0.519,110.7)(0.570,110.5)(0.630,111.1)(0.704,112.1)
(0.778,112.7)(0.852,113.4)(0.926,113.7)(1.000,114.4)(1.059,115.0)(1.111,115.3)(1.148,116.3)(1.207,116.5)
(1.237,116.6)(1.296,117.6)(1.356,118.6)(1.407,118.5)(1.459,118.5)(1.519,117.8)(1.578,117.6)(1.630,117.4)
(1.681,116.6)(1.726,115.0)(1.778,114.2)(1.815,115.0)(1.852,114.1)(1.904,113.0)(1.948,112.3)(2.000,110.4)
(2.074,110.7)(2.148,111.3)(2.222,111.1)(2.296,110.2)(2.370,110.1)(2.407,109.3)(2.481,109.4)(2.541,110.0)
(2.593,108.8)(2.667,108.4)(2.719,107.7)(2.778,108.4)(2.852,108.8)(2.911,109.4)(2.963,109.4)(3.015,110.0)
(3.074,110.9)(3.111,109.5)(3.163,106.5)(3.207,105.2)(3.259,104.9)(3.296,105.3)(3.356,105.9)(3.407,104.9)
(3.459,102.4)(3.504,100.4)(3.556,100.0)(3.593,99.0)(3.652,99.1)(3.704,100.0)(3.741,100.8)(3.778,99.9)
(3.830,101.3)(3.889,102.6)(3.948,103.3)(4.000,103.2)(4.052,100.6)(4.096,101.3)(4.148,104.0)(4.200,105.0)
(4.259,105.2)(4.319,104.0)(4.370,104.3)(4.422,103.3)(4.481,102.9)(4.556,102.6)(4.615,104.3)(4.667,104.5)
(4.719,104.0)(4.763,102.2)(4.815,100.3)(4.867,100.6)(4.911,102.0)(4.941,103.8)(4.985,102.6)(5.037,101.8)};
\addlegendentry{Crude Oil, Brent, Global Spot, ICE, Close, USD}
\end{axis}
\begin{axis}[rx, cH, tick label style={font=\fs{3.9}}, ylabel={Currency Unit/Barrel}, ylabel style={font=\fs{3.8}}, ylabel shift=-6pt]
\end{axis}

% ===== in-plot labels and month rows =====
\begin{scope}[x=0.5pt,y=-0.5pt]
\draw[gray!70, fill=gray!6, line width=0.4pt] (147.5,223.5) rectangle (449,234);
\node[font=\fs{3.4}, inner sep=0] at (298.3,228.8) {Norway, Equity Indices, Oslo Stock Exchange, OBX Index (OBX), Total Return, Close, NOK};
\draw[gray!70, fill=gray!6, line width=0.4pt] (719,247) rectangle (753,256);
\node[font=\fs{3.4}, inner sep=0] at (736,251.5) {Oslo Børs};
\draw[gray!70, fill=gray!6, line width=0.4pt] (255,760) rectangle (298,770);
\node[font=\fs{4}, text=lb!80!black, inner sep=0] at (276.5,765) {3m NIBOR};
\draw[gray!70, fill=gray!6, line width=0.4pt] (782,787.5) rectangle (827,796);
\node[font=\fs{3.9}, text=lb!80!black, inner sep=0] at (804.5,791.8) {3m NIBOR};
\draw[gray!70, fill=gray!6, line width=0.4pt] (268,1169) rectangle (443,1180);
\node[font=\fs{3.7}, text=lb!80!black, inner sep=0] at (355.5,1174.5) {Crude Oil, Brent, Global Spot, ICE, Close, USD};
\draw[gray!70, fill=gray!6, line width=0.4pt] (717,1046) rectangle (872,1056);
\node[font=\fs{3.3}, text=lb!80!black, inner sep=0] at (794.5,1051) {Crude Oil, Brent, Global Spot, ICE, Close, USD};
% month labels
\foreach \xx/\mm in {630/jan,681/feb,728/mar,777/apr,827/mai} {
  \node[font=\fs{3.1}, inner sep=0, anchor=base] at (\xx,385.5) {2013 \mm};
}
\foreach \xx/\mm in {622/jan,680/feb,730/mar,780/apr,830/mai} {
  \node[font=\fs{2.2}, inner sep=0, anchor=base] at (\xx,643.2) {2013 \mm};
}
\foreach \xx/\mm in {616/jan,680/feb,744/mar,805/apr,870/mai} {
  \node[font=\fs{3.9}, inner sep=0, anchor=base] at (\xx,943) {2013 \mm};
}
\node[font=\fs{3.9}, inner sep=0, anchor=base] at (744,1207) {2013};
\end{scope}
\end{tikzpicture}
\end{document}
